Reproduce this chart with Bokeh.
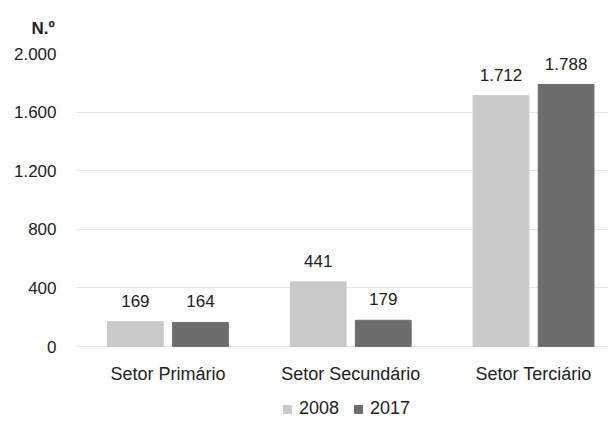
from bokeh.plotting import figure
from bokeh.models import ColumnDataSource, Range1d, FixedTicker, Legend, LegendItem, Title
from bokeh.core.properties import value
from bokeh.embed import file_html
from bokeh.resources import INLINE

categories = ["Setor Primário", "Setor Secundário", "Setor Terciário"]
series_names = ["2008", "2017"]
values_2008 = [169, 441, 1712]
values_2017 = [164, 179, 1788]
y_ticks = [0, 400, 800, 1200, 1600, 2000]
y_tick_labels = ["0", "400", "800", "1.200", "1.600", "2.000"]

FONT = "Liberation Sans"
C2008 = "#c9c9c9"
C2017 = "#6d6d6d"

def fmt(v):
    return f"{v:,}".replace(",", ".")

xs = [i + 0.5 for i in range(len(categories))]
off = 0.178
bw = 0.305

src08 = ColumnDataSource(dict(x=[x - off for x in xs], top=values_2008, lab=[fmt(v) for v in values_2008]))
src17 = ColumnDataSource(dict(x=[x + off for x in xs], top=values_2017, lab=[fmt(v) for v in values_2017]))

# frame spans from the 2000 gridline down to the bottom of the canvas (legend sits inside it)
px_per_unit = 293 / 2000.0
y_bottom = -73 / px_per_unit

p = figure(width=608, height=419, output_backend="svg", toolbar_location=None,
           x_range=Range1d(0, 2.91), y_range=Range1d(y_bottom, 2000),
           min_border_left=76, min_border_right=0, min_border_top=53, min_border_bottom=0)
p.outline_line_color = None
p.background_fill_color = "white"

r1 = p.vbar(x="x", top="top", width=bw, source=src08, color=C2008)
r2 = p.vbar(x="x", top="top", width=bw, source=src17, color=C2017)

for s in (src08, src17):
    p.text(x="x", y="top", text="lab", source=s, text_align="center", text_baseline="bottom",
           y_offset=-15, text_font=value(FONT), text_font_size="17px", text_color="#222222")

p.xaxis.fixed_location = 0
p.xaxis.ticker = FixedTicker(ticks=xs)
p.xaxis.major_label_overrides = {x: c for x, c in zip(xs, categories)}
p.xaxis.axis_line_color = None
p.xaxis.major_tick_line_color = None
p.xaxis.minor_tick_line_color = None
p.xaxis.major_label_standoff = 11
p.xaxis.major_label_text_font = FONT
p.xaxis.major_label_text_font_size = "18px"
p.xaxis.major_label_text_color = "#222222"

p.yaxis.ticker = FixedTicker(ticks=y_ticks)
p.yaxis.major_label_overrides = {t: l for t, l in zip(y_ticks, y_tick_labels)}
p.yaxis.axis_line_color = None
p.yaxis.major_tick_line_color = None
p.yaxis.minor_tick_line_color = None
p.yaxis.major_label_standoff = 14
p.yaxis.major_label_text_font = FONT
p.yaxis.major_label_text_font_size = "17px"
p.yaxis.major_label_text_color = "#222222"

p.xgrid.grid_line_color = None
p.ygrid.grid_line_color = "#e6e6e6"
p.ygrid.grid_line_width = 1

p.add_layout(Title(text="N.º", align="left", offset=-45, standoff=31,
                   text_font=FONT, text_font_size="17px", text_font_style="bold",
                   text_color="#222222"), "above")

legend = Legend(items=[LegendItem(label=series_names[0], renderers=[r1]),
                       LegendItem(label=series_names[1], renderers=[r2])],
                orientation="horizontal", location=(206, 0),
                label_text_font=FONT, label_text_font_size="18px", label_text_color="#222222",
                glyph_width=10, glyph_height=10, spacing=14, label_standoff=7,
                border_line_color=None, background_fill_alpha=0, padding=0, margin=0)
p.add_layout(legend)

open("out.html", "w").write(file_html(p, INLINE))
